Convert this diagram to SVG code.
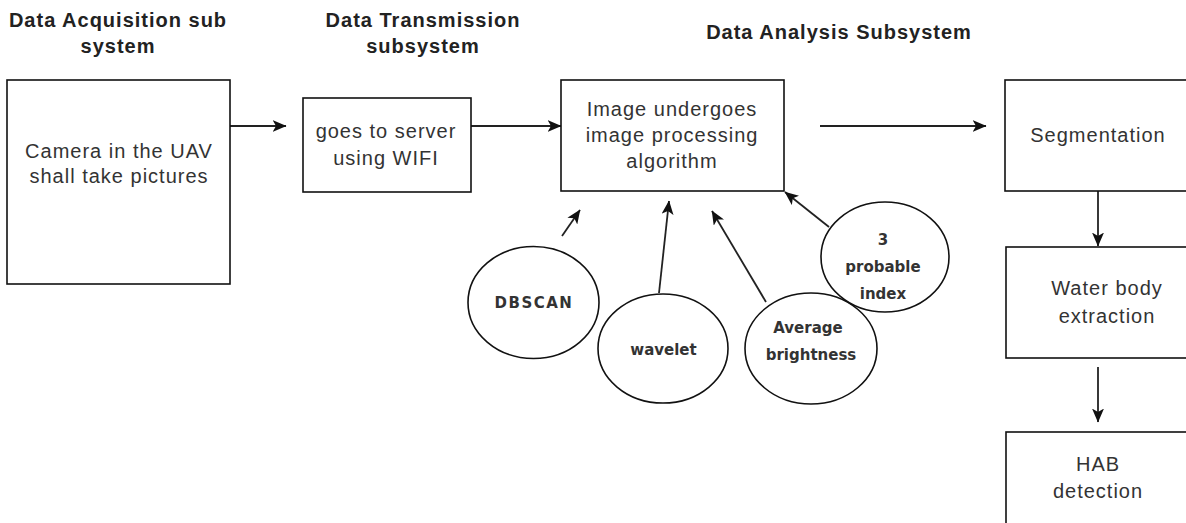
<svg xmlns="http://www.w3.org/2000/svg" width="1186" height="523" viewBox="0 0 1186 523">
<style>
.title{font-family:"Liberation Sans",Arial,sans-serif;font-size:20px;font-weight:bold;fill:#222;letter-spacing:1px;text-anchor:middle}
.box{fill:#fff;stroke:#111;stroke-width:1.6}
.bt{font-family:"Liberation Sans",Arial,sans-serif;font-size:20px;fill:#333;letter-spacing:1px;text-anchor:middle}
.ell{fill:#fff;stroke:#111;stroke-width:1.6}
.ct{font-family:"DejaVu Sans",Verdana,sans-serif;font-size:15px;font-weight:bold;fill:#333;text-anchor:middle}
.conn{fill:none;stroke:#222;stroke-width:1.8}
</style>
<defs>
<marker id="arr" viewBox="0 0 14 12" markerWidth="14" markerHeight="12" refX="13.5" refY="6" orient="auto" markerUnits="userSpaceOnUse">
<path d="M0,0 L14,6 L0,12 L3.5,6 Z" fill="#111"/>
</marker>
</defs>
<rect width="1186" height="523" fill="#fff"/>
<g id="titles">
<text class="title" x="118" y="27">Data Acquisition sub</text>
<text class="title" x="118" y="53">system</text>
<text class="title" x="423" y="27">Data Transmission</text>
<text class="title" x="423" y="53">subsystem</text>
<text class="title" x="839" y="39">Data Analysis Subsystem</text>
</g>
<g id="connectors">
<line class="conn" x1="230" y1="126" x2="286" y2="126" marker-end="url(#arr)"/>
<line class="conn" x1="471" y1="126" x2="561" y2="126" marker-end="url(#arr)"/>
<line class="conn" x1="820" y1="126" x2="986" y2="126" marker-end="url(#arr)"/>
<line class="conn" x1="1098" y1="191" x2="1098" y2="246" marker-end="url(#arr)"/>
<line class="conn" x1="1098" y1="367" x2="1098" y2="422" marker-end="url(#arr)"/>
<line class="conn" x1="562" y1="236" x2="580" y2="210" marker-end="url(#arr)"/>
<line class="conn" x1="659" y1="293" x2="669" y2="201" marker-end="url(#arr)"/>
<line class="conn" x1="766" y1="302" x2="712" y2="211" marker-end="url(#arr)"/>
<line class="conn" x1="829" y1="227" x2="785" y2="192" marker-end="url(#arr)"/>
</g>
<g id="camera">
<rect class="box" x="7" y="80" width="223" height="204"/>
<text class="bt" x="119" y="158">Camera in the UAV</text>
<text class="bt" x="119" y="183">shall take pictures</text>
</g>
<g id="transmission">
<rect class="box" x="303" y="98" width="168" height="94"/>
<text class="bt" x="386" y="138">goes to server</text>
<text class="bt" x="386" y="165">using WIFI</text>
</g>
<g id="image-processing">
<rect class="box" x="561" y="80" width="223" height="111"/>
<text class="bt" x="672" y="116">Image undergoes</text>
<text class="bt" x="672" y="142">image processing</text>
<text class="bt" x="672" y="168">algorithm</text>
</g>
<g id="segmentation">
<rect class="box" x="1005" y="80" width="220" height="111"/>
<text class="bt" x="1098" y="142">Segmentation</text>
</g>
<g id="water-body">
<rect class="box" x="1006" y="247" width="220" height="111"/>
<text class="bt" x="1107" y="295">Water body</text>
<text class="bt" x="1107" y="323">extraction</text>
</g>
<g id="hab">
<rect class="box" x="1006" y="432" width="220" height="111"/>
<text class="bt" x="1098" y="471">HAB</text>
<text class="bt" x="1098" y="498">detection</text>
</g>
<g id="dbscan">
<ellipse class="ell" cx="533.5" cy="302.5" rx="65.5" ry="56"/>
<text class="ct" x="534" y="308" style="letter-spacing:1.5px">DBSCAN</text>
</g>
<g id="wavelet">
<ellipse class="ell" cx="663" cy="348.5" rx="65" ry="54.5"/>
<text class="ct" x="663.5" y="355">wavelet</text>
</g>
<g id="average-brightness">
<ellipse class="ell" cx="811" cy="348.5" rx="66" ry="55.5"/>
<text class="ct" x="808" y="333">Average</text>
<text class="ct" x="811" y="360">brightness</text>
</g>
<g id="probable-index">
<ellipse class="ell" cx="885" cy="257" rx="64" ry="55" fill-opacity="0"/>
<text class="ct" x="883" y="245">3</text>
<text class="ct" x="883" y="272">probable</text>
<text class="ct" x="883" y="299">index</text>
</g>
</svg>
